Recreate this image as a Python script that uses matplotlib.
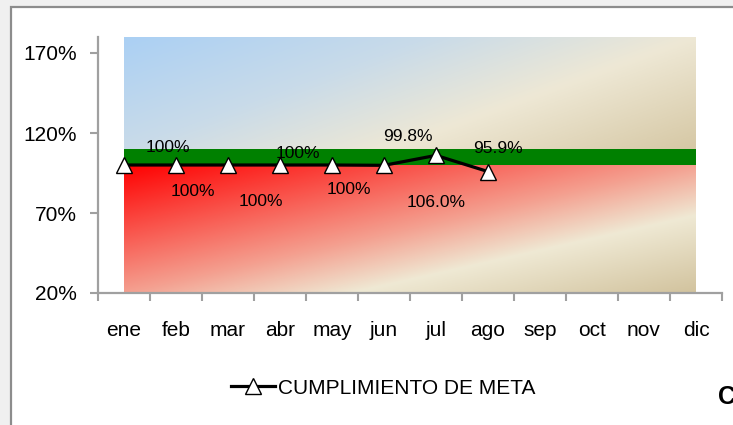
import numpy as np
import matplotlib
matplotlib.use("Agg")
import matplotlib.pyplot as plt
from matplotlib.colors import LinearSegmentedColormap
from matplotlib.patches import Rectangle
from matplotlib.lines import Line2D

# Data
meses = ['ene', 'feb', 'mar', 'abr', 'may', 'jun', 'jul', 'ago', 'sep', 'oct', 'nov', 'dic']
cumplimiento = [100, 100, 100, 100, 100, 99.8, 106.0, 95.9]
etiquetas = ['100%', '100%', '100%', '100%', '100%', '99.8%', '106.0%', '95.9%']
zona_roja = [100, 100, 100, 100, 100, 100, 100, 100, 100, 100, 100, 100]
zona_verde = [110, 110, 110, 110, 110, 110, 110, 110, 110, 110, 110, 110]
zona_techo = [180, 180, 180, 180, 180, 180, 180, 180, 180, 180, 180, 180]
y_ticks = [20, 70, 120, 170]

# label offsets (pixels) as placed in the original chart
offsets = [(44, 17), (17, -26), (33, -37), (18, 12), (17, -24), (24, 29), (0, -47), (10, 23)]

plt.rcParams['font.family'] = ['Liberation Sans', 'DejaVu Sans']
FS = 15

W, H = 733, 425
fig = plt.figure(figsize=(W / 100, H / 100), dpi=100, facecolor='#f0f0f0')

# white chart panel with grey frame
fig.add_artist(Rectangle((11 / W, -0.1), 1.2, (H - 7) / H + 0.1, transform=fig.transFigure,
                         facecolor='white', edgecolor='#8c8c8c', lw=1.6, zorder=0))

ax = fig.add_axes([98 / W, 1 - 293 / H, 624 / W, 256 / H])
ax.patch.set_alpha(0)

x = np.arange(len(meses))
ymin, ymax = 20, 180


def gradient_fill(lower, upper, stops, wu, wv):
    poly = ax.fill_between(x, lower, upper, facecolor='none', edgecolor='none')
    cmap = LinearSegmentedColormap.from_list('g', stops)
    uu, vv = np.meshgrid(np.linspace(0, 1, 300), np.linspace(0, 1, 200))
    t = wu * uu + wv * vv
    im = ax.imshow(t, cmap=cmap, vmin=0, vmax=1, extent=[x[0], x[-1], min(lower), max(upper)],
                   origin='upper', aspect='auto', interpolation='bilinear', zorder=1)
    im.set_clip_path(poly.get_paths()[0], transform=ax.transData)


# upper zone (blue -> cream -> tan)
gradient_fill(zona_verde, zona_techo,
              [(0, '#abd0f4'), (0.35, '#c9dbe9'), (0.65, '#eee8d5'), (1, '#d6c8a5')], 0.65, 0.35)
# lower zone (red -> cream -> tan)
gradient_fill([ymin] * len(x), zona_roja,
              [(0, '#ff0000'), (0.5, '#f4a090'), (0.7, '#efe9d4'), (1, '#d2c39e')], 0.5, 0.5)
# green target band
ax.fill_between(x, zona_roja, zona_verde, facecolor='#008000', edgecolor='none', zorder=2)

# line
ax.plot(x[:len(cumplimiento)], cumplimiento, color='black', lw=2.3, marker='^', markersize=12,
        markerfacecolor='white', markeredgecolor='black', markeredgewidth=1.0, zorder=4)

for xi, yi, lab, (dx, dy) in zip(x, cumplimiento, etiquetas, offsets):
    ax.annotate(lab, (xi, yi), xytext=(dx * 0.72, dy * 0.72), textcoords='offset points',
                ha='center', va='center', fontsize=12.5, color='black', zorder=5)

ax.set_xlim(-0.5, len(meses) - 0.5)
ax.set_ylim(ymin, ymax)
ax.set_yticks(y_ticks)
ax.set_yticklabels([f'{v}%' for v in y_ticks], fontsize=FS)
ax.set_xticks(np.arange(-0.5, len(meses)), labels=[''] * (len(meses) + 1))
ax.set_xticks(x, labels=meses, minor=True, fontsize=FS)
ax.tick_params(axis='x', which='major', length=6, width=1.5, color='#a0a0a0', direction='out')
ax.tick_params(axis='x', which='minor', length=0, pad=20.5)
ax.tick_params(axis='y', length=6, width=1.5, color='#a0a0a0', pad=9)

for s in ['top', 'right']:
    ax.spines[s].set_visible(False)
for s in ['left', 'bottom']:
    ax.spines[s].set_color('#a0a0a0')
    ax.spines[s].set_linewidth(1.6)
    ax.spines[s].set_zorder(3)

# legend
handle = Line2D([], [], color='black', lw=2.3, marker='^', markersize=12,
                markerfacecolor='white', markeredgecolor='black', markeredgewidth=1.0)
fig.legend([handle], ['CUMPLIMIENTO DE META'], loc='center', bbox_to_anchor=(383 / W, 1 - 388 / H),
           frameon=False, fontsize=FS, handlelength=2.1, handletextpad=0.15)

# clipped text at right edge
fig.text(718 / W, 1 - 397 / H, 'C', fontsize=18, fontweight='bold', ha='left', va='center')

fig.savefig('out.png', dpi=100, facecolor=fig.get_facecolor())
